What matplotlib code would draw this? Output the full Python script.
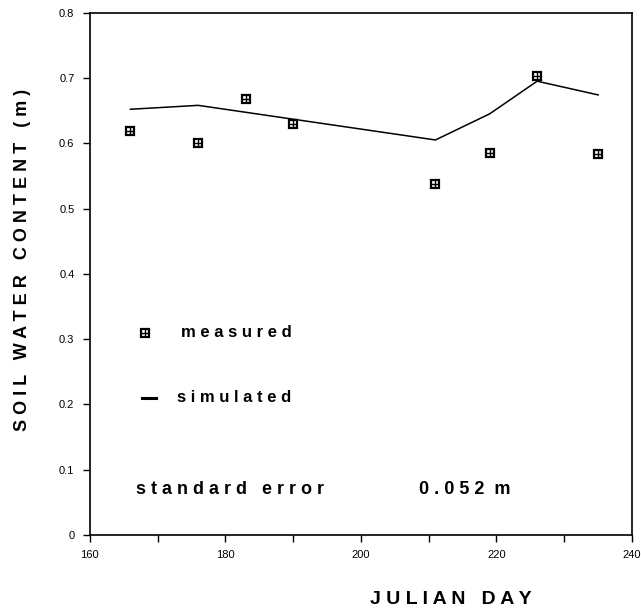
import matplotlib
matplotlib.use("Agg")
import matplotlib.pyplot as plt

# measured soil water content (m) by julian day
meas_day = [166, 176, 183, 190, 211, 219, 226, 235]
meas_swc = [0.618, 0.600, 0.667, 0.630, 0.538, 0.585, 0.703, 0.583]

# simulated
sim_day = [166, 176, 211, 219, 226, 235]
sim_swc = [0.652, 0.658, 0.605, 0.645, 0.695, 0.674]

xticks = [160, 180, 200, 220, 240]
yticks = [0, 0.1, 0.2, 0.3, 0.4, 0.5, 0.6, 0.7, 0.8]
ytick_labels = ["0", "0.1", "0.2", "0.3", "0.4", "0.5", "0.6", "0.7", "0.8"]

plt.rcParams["font.family"] = ["Liberation Sans", "DejaVu Sans"]


def spaced(s):
    return " ".join(s)


fig = plt.figure(figsize=(6.41, 6.16), dpi=100)
ax = fig.add_axes([0.140, 0.1315, 0.846, 0.848])

ax.plot(sim_day, sim_swc, color="black", lw=1.1)
ax.plot(meas_day, meas_swc, ls="none", marker="s", ms=6, mfc="white",
        mec="black", mew=1.6)
ax.plot(meas_day, meas_swc, ls="none", marker="+", ms=6, mec="black", mew=1.0)

# in-plot legend
ax.plot([168.1], [0.31], ls="none", marker="s", ms=6, mfc="white", mec="black", mew=1.6)
ax.plot([168.1], [0.31], ls="none", marker="+", ms=6, mec="black", mew=1.0)
ax.text(173.4, 0.31, spaced("measured"), fontsize=12, fontweight="bold", va="center")
ax.plot([167.7, 169.8], [0.21, 0.21], color="black", lw=2.2)
ax.text(172.9, 0.21, spaced("simulated"), fontsize=12, fontweight="bold", va="center")

ax.text(166.8, 0.07, spaced("standard") + "   " + spaced("error"),
        fontsize=13, fontweight="bold", va="center")
ax.text(208.5, 0.07, spaced("0.052") + "  m", fontsize=13, fontweight="bold",
        va="center")

ax.set_xlim(160, 240)
ax.set_ylim(0, 0.8)
ax.set_xticks(xticks)
ax.set_xticks(range(170, 240, 20), minor=True)
ax.set_yticks(yticks)
ax.set_yticklabels(ytick_labels)
ax.tick_params(which="both", direction="out", length=5, width=1.0,
               labelsize=8, pad=6)
for s in ax.spines.values():
    s.set_linewidth(1.2)

fig.text(0.035, 0.578, spaced("SOIL") + "   " + spaced("WATER") + "   " +
         spaced("CONTENT") + "   " + spaced("(m)"),
         rotation=90, fontsize=13, fontweight="bold", ha="center", va="center")
fig.text(0.703, 0.026, spaced("JULIAN") + "   " + spaced("DAY"),
         fontsize=14, fontweight="bold", ha="center", va="center")

fig.savefig("out.png", dpi=100)
